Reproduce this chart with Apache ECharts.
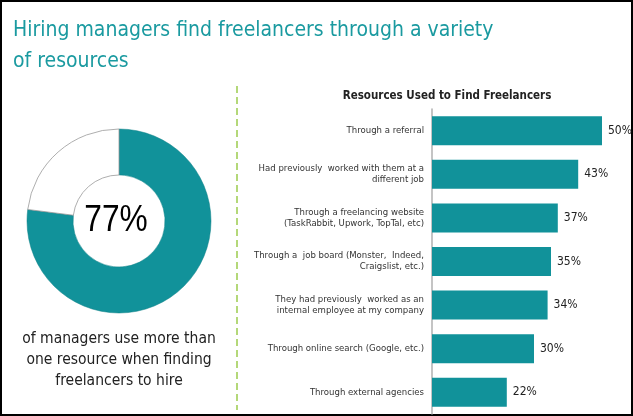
<!DOCTYPE html>
<html><head><meta charset="utf-8">
<script src="https://cdn.jsdelivr.net/npm/echarts@6/dist/echarts.min.js"></script>
<style>html,body{margin:0;padding:0;background:#fff}#c{width:633px;height:416px}</style>
</head><body><div id="c"></div>
<script>
const categories = [
  "Through a referral",
  "Had previously  worked with them at a\ndifferent job",
  "Through a freelancing website\n(TaskRabbit, Upwork, TopTal, etc)",
  "Through a  job board (Monster,  Indeed,\nCraigslist, etc.)",
  "They had previously  worked as an\ninternal employee at my company",
  "Through online search (Google, etc.)",
  "Through external agencies"
];
const values = [50, 43, 37, 35, 34, 30, 22];
const donutNames = ["More than one resource", "Other"];
const donutValues = [77, 23];
const TEAL = '#11929a';
const chart = echarts.init(document.getElementById('c'));
chart.setOption({
  animation: false,
  title: [{
    text: 'Resources Used to Find Freelancers',
    left: 442, top: 85, textAlign: 'center',
    textStyle: {fontFamily: 'DejaVu Sans Condensed', fontSize: 11.5, fontWeight: 'bold', color: '#222'}
  }],
  grid: {left: 432, right: 31, top: 109, bottom: 2, containLabel: false},
  xAxis: {type: 'value', min: 0, max: 50, show: false},
  yAxis: {
    type: 'category', data: categories, inverse: true,
    axisLine: {show: true, lineStyle: {color: '#b0b0b0', width: 1.5}},
    axisTick: {show: false},
    axisLabel: {margin: 8, fontFamily: 'DejaVu Sans Condensed', fontSize: 9.5, lineHeight: 11, color: '#333', align: 'right'}
  },
  series: [{
    type: 'bar', data: values, barWidth: 29,
    itemStyle: {color: TEAL},
    label: {show: true, position: 'right', distance: 6, formatter: '{c}%', fontFamily: 'DejaVu Sans Condensed', fontSize: 12, color: '#222'}
  }, {
    type: 'pie', center: [119, 221], radius: [46, 92], startAngle: 90, clockwise: true,
    label: {show: false}, labelLine: {show: false}, silent: true,
    data: donutNames.map((n, i) => ({name: n, value: donutValues[i],
      itemStyle: i === 0 ? {color: TEAL, borderColor: '#0b7e85', borderWidth: 0.5} : {color: '#fff', borderColor: '#999', borderWidth: 0.8}}))
  }],
  graphic: [
    {type: 'rect', shape: {x: 1, y: 1, width: 631, height: 414}, style: {fill: 'none', stroke: '#000', lineWidth: 2}},
    {type: 'text', left: 13, top: 15, style: {text: 'Hiring managers find freelancers through a variety\nof resources', fontFamily: 'DejaVu Sans Condensed', fontSize: 21, fontWeight: 500, lineHeight: 31, fill: '#1a9aa0'}},
    {type: 'line', shape: {x1: 237, y1: 86, x2: 237, y2: 410}, style: {stroke: '#9ccc4e', lineWidth: 1.5, lineDash: [7, 4]}},
    {type: 'text', x: 116, y: 221, scaleX: 0.88, style: {text: '77%', fontFamily: 'Liberation Sans', fontSize: 36, fill: '#000', align: 'center', verticalAlign: 'middle'}},
    {type: 'text', x: 119, y: 328, style: {text: 'of managers use more than\none resource when finding\nfreelancers to hire', fontFamily: 'DejaVu Sans Condensed', fontSize: 15.5, lineHeight: 21, fill: '#222', align: 'center', verticalAlign: 'top'}}
  ]
});
</script></body></html>
